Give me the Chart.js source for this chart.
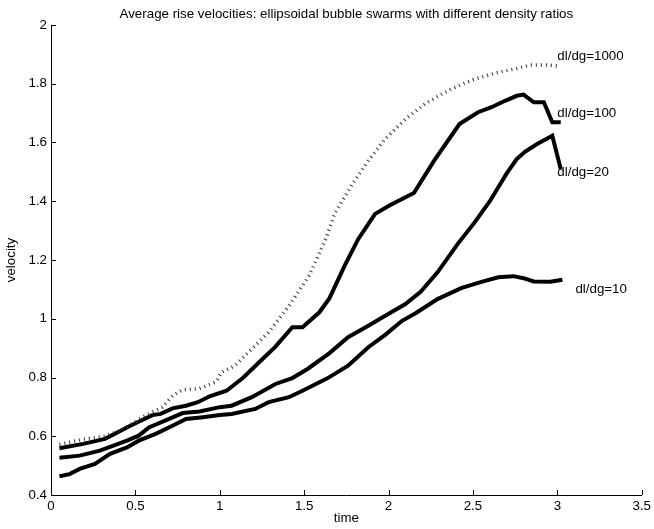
<!DOCTYPE html>
<html><head><meta charset="utf-8">
<script src="https://cdn.jsdelivr.net/npm/chart.js@4/dist/chart.umd.min.js"></script>
<style>html,body{margin:0;padding:0;background:#fff;}canvas{display:block;}</style>
</head><body>
<canvas id="c" width="654" height="529"></canvas>
<script>
const titleText = 'Average rise velocities: ellipsoidal bubble swarms with different density ratios';
const xTitle = 'time';
const yTitle = 'velocity';
const xTicks = [0, 0.5, 1, 1.5, 2, 2.5, 3, 3.5];
const yTicks = [0.4, 0.6, 0.8, 1, 1.2, 1.4, 1.6, 1.8, 2];

const seriesNames = ['dl/dg=1000', 'dl/dg=100', 'dl/dg=20', 'dl/dg=10'];

const t1000 = [0.05,0.19,0.32,0.41,0.54,0.66,0.72,0.78,0.88,0.98,1.01,1.09,1.17,1.29,1.41,1.53,1.63,1.68,1.78,1.88,1.98,2.10,2.23,2.37,2.51,2.65,2.76,2.84,2.94,3.01];
const v1000 = [0.572,0.590,0.600,0.619,0.664,0.699,0.738,0.758,0.762,0.786,0.818,0.840,0.886,0.954,1.044,1.147,1.275,1.357,1.453,1.538,1.612,1.680,1.737,1.782,1.816,1.839,1.852,1.864,1.864,1.860];

const t100 = [0.05,0.19,0.32,0.47,0.60,0.65,0.72,0.80,0.87,0.94,1.04,1.14,1.23,1.33,1.43,1.49,1.59,1.65,1.74,1.82,1.92,2.01,2.15,2.27,2.42,2.53,2.61,2.69,2.76,2.80,2.86,2.92,2.97,3.02];
const v100 = [0.559,0.574,0.591,0.636,0.672,0.676,0.695,0.704,0.716,0.736,0.755,0.800,0.850,0.905,0.971,0.971,1.022,1.070,1.181,1.271,1.357,1.387,1.428,1.538,1.663,1.703,1.720,1.742,1.759,1.763,1.737,1.737,1.669,1.669];

const t20 = [0.05,0.17,0.29,0.45,0.52,0.58,0.70,0.78,0.88,1.00,1.07,1.19,1.33,1.43,1.52,1.65,1.76,1.88,1.98,2.10,2.19,2.29,2.41,2.51,2.60,2.70,2.76,2.81,2.88,2.97,3.02];
const v20 = [0.527,0.534,0.551,0.585,0.602,0.630,0.659,0.679,0.684,0.699,0.704,0.733,0.778,0.798,0.829,0.883,0.937,0.976,1.010,1.050,1.092,1.158,1.255,1.328,1.400,1.495,1.544,1.569,1.595,1.623,1.510];

const t10 = [0.05,0.11,0.17,0.26,0.35,0.45,0.52,0.62,0.72,0.80,0.90,1.00,1.07,1.21,1.29,1.41,1.49,1.64,1.76,1.88,1.98,2.08,2.16,2.29,2.43,2.54,2.65,2.74,2.80,2.86,2.96,3.03];
const v10 = [0.464,0.471,0.489,0.506,0.540,0.562,0.585,0.608,0.636,0.659,0.665,0.672,0.676,0.693,0.716,0.733,0.755,0.798,0.840,0.903,0.945,0.993,1.019,1.067,1.104,1.124,1.141,1.145,1.138,1.127,1.126,1.133];

// label anchors (data coordinates)
const labelX = [3.0, 3.0, 3.0, 3.107];
const labelY = [1.894, 1.699, 1.497, 1.100];

const FONT = "'Liberation Sans', Arial, Helvetica, sans-serif";
const FS = 13.33;

function pts(t, v) { return t.map((x, i) => ({x: x, y: v[i]})); }

const seriesData = [pts(t1000, v1000), pts(t100, v100), pts(t20, v20), pts(t10, v10)];

const datasets = seriesData.map((d, i) => ({
  label: seriesNames[i],
  data: d,
  showLine: true,
  borderColor: i === 0 ? '#333' : '#000',
  borderWidth: i === 0 ? 3.5 : 4,
  borderDash: i === 0 ? [1, 4] : [],
  borderCapStyle: 'butt',
  borderJoinStyle: 'miter',
  pointRadius: 0,
  tension: 0,
  fill: false
}));

const decor = {
  id: 'decor',
  afterDraw(chart) {
    const ctx = chart.ctx;
    const xs = chart.scales.x, ys = chart.scales.y;
    const a = chart.chartArea;
    ctx.save();
    ctx.strokeStyle = '#000';
    ctx.lineWidth = 1;
    ctx.beginPath();
    xTicks.forEach(v => {
      const p = Math.round(xs.getPixelForValue(v)) + 0.5;
      ctx.moveTo(p, a.bottom);
      ctx.lineTo(p, a.bottom - 5);
    });
    yTicks.forEach(v => {
      const p = Math.round(ys.getPixelForValue(v)) + 0.5;
      ctx.moveTo(a.left, p);
      ctx.lineTo(a.left + 5, p);
    });
    ctx.stroke();
    // title
    ctx.fillStyle = '#000';
    ctx.font = FS + 'px ' + FONT;
    ctx.textAlign = 'center';
    ctx.textBaseline = 'alphabetic';
    ctx.fillText(titleText, (a.left + a.right) / 2, 18);
    // series labels
    ctx.textAlign = 'left';
    ctx.textBaseline = 'middle';
    seriesNames.forEach((n, i) => {
      ctx.fillText(n, xs.getPixelForValue(labelX[i]), ys.getPixelForValue(labelY[i]));
    });
    ctx.restore();
  }
};

const fmt = v => String(parseFloat(Number(v).toFixed(2)));

new Chart(document.getElementById('c'), {
  type: 'scatter',
  data: { datasets: datasets },
  options: {
    responsive: false,
    animation: false,
    devicePixelRatio: 1,
    layout: { padding: { left: 0, right: 9, top: 25, bottom: 0 } },
    plugins: { legend: { display: false }, tooltip: { enabled: false }, title: { display: false } },
    scales: {
      x: {
        type: 'linear', min: 0, max: 3.5,
        afterBuildTicks: s => { s.ticks = xTicks.map(v => ({value: v})); },
        afterFit: s => { s.height = 34; },
        grid: { display: false, drawTicks: false },
        border: { display: true, color: '#000', width: 1 },
        ticks: { color: '#000', padding: 3, maxRotation: 0, autoSkip: false, font: { size: FS, family: FONT }, callback: fmt },
        title: { display: true, text: xTitle, color: '#000', font: { size: FS, family: FONT }, padding: { top: 0, bottom: 3 } }
      },
      y: {
        type: 'linear', min: 0.4, max: 2,
        afterBuildTicks: s => { s.ticks = yTicks.map(v => ({value: v})); },
        afterFit: s => { s.width = 51; },
        grid: { display: false, drawTicks: false },
        border: { display: true, color: '#000', width: 1 },
        ticks: { color: '#000', padding: 4, autoSkip: false, font: { size: FS, family: FONT }, callback: fmt },
        title: { display: true, text: yTitle, color: '#000', font: { size: FS, family: FONT }, padding: { top: 3, bottom: 0 } }
      }
    }
  },
  plugins: [decor]
});
</script>
</body></html>
